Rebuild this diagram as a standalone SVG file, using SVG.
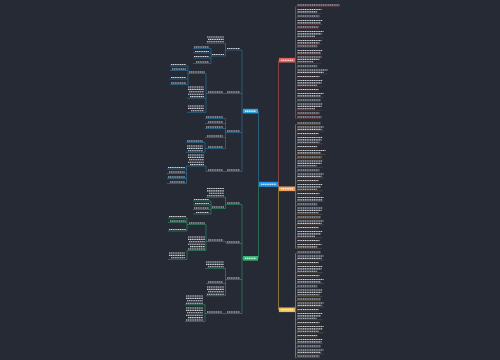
<svg xmlns="http://www.w3.org/2000/svg" width="500" height="360" viewBox="0 0 500 360">
<style>
.t{fill:none;stroke:#d4d7dc;stroke-width:1.1;stroke-dasharray:1.3 .5}
.tw{fill:none;stroke:#ffffff;stroke-width:1.1;stroke-dasharray:1.3 .5}
.c{fill:none;stroke-width:.6}
.r{stroke:#c4524f}.o{stroke:#d08a45}.y{stroke:#cba443}.b{stroke:#2b7dab}.g{stroke:#2e9767}
g[id^="r"] .c,g[id^="o"] .c,g[id^="y"] .c{stroke-opacity:.45}
</style>
<rect width="500" height="360" fill="#262a34"/>
<g id="connectors">
<path class="c b" d="M259 184.3H258.5V111.1"/>
<path class="c g" d="M258.5 184.3V258.3"/>
<path class="c r" d="M278 184.3h.5V60.2H279"/>
<path class="c y" d="M278.5 184.3V309.8H279M278.5 188.8h.5"/>
<path class="c r" d="M295.5 6.5V118.5"/>
<path class="c o" d="M295.5 124.5V248.4"/>
<path class="c y" d="M295.5 253.5V357.5"/>
<path class="c b" d="M242 50V171.5M242 111.1h1M225.5 43.3V56M211 48.5V63.5M206 73.5V112.3M188 66V84.5M225.5 118.5V148.5M205 142.5V152.3M206 166.1V171.5M186.5 166.1V183.5"/>
<path class="c g" d="M242 204.5V313.5M242 258.3h1M225.5 197.2V208.5M211 201V214M226 241.5V243.5M206 224.5V250.5M187 218V231M187 250.5V259.3M225.5 268.3V295.7M205 304.7V321.5"/>
</g>
<g id="center"><rect x="259" y="181.8" width="19" height="5" fill="#2196f3"/><path class="tw" d="M261 184.3h15"/></g>
<g id="n-red"><rect x="279" y="57.9" width="16" height="4.6" fill="#e0625e"/><path class="tw" d="M281 60.2h12"/></g>
<g id="n-orange"><rect x="279" y="186.5" width="16" height="4.6" fill="#f0a25e"/><path class="tw" d="M281 188.8h12"/></g>
<g id="n-yellow"><rect x="279" y="307.5" width="16" height="4.6" fill="#edc05a"/><path class="tw" d="M281 309.8h12"/></g>
<g id="n-blue"><rect x="243" y="108.8" width="15" height="4.6" fill="#2ea4dc"/><path class="tw" d="M245 111.1h11"/></g>
<g id="n-green"><rect x="243" y="256" width="15" height="4.6" fill="#35b677"/><path class="tw" d="M245 258.3h11"/></g>
<g id="r1"><path class="t" d="M297.5 5h42"/><path class="c r" d="M295.5 6.5h44"/></g>
<g id="r2"><path class="t" d="M297.5 9.5h24M297.5 11.9h20"/><path class="c r" d="M295.5 13.4h26"/></g>
<g id="r3"><path class="t" d="M297.5 16h22"/><path class="c r" d="M295.5 17.5h24"/></g>
<g id="r4"><path class="t" d="M297.5 20.5h25M297.5 22.9h23"/><path class="c r" d="M295.5 24.4h27"/></g>
<g id="r5"><path class="t" d="M297.5 27h21"/><path class="c r" d="M295.5 28.5h23"/></g>
<g id="r6"><path class="t" d="M297.5 31.5h26M297.5 33.9h24M297.5 36.3h18"/><path class="c r" d="M295.5 37.8h28"/></g>
<g id="r7"><path class="t" d="M297.5 40.5h24M297.5 42.9h22"/><path class="c r" d="M295.5 44.4h26"/></g>
<g id="r8"><path class="t" d="M297.5 46h20"/><path class="c r" d="M295.5 47.5h22"/></g>
<g id="r9"><path class="t" d="M297.5 50.5h25M297.5 52.9h23"/><path class="c r" d="M295.5 54.4h27"/></g>
<g id="r10"><path class="t" d="M297.5 57h24M297.5 59.4h22M297.5 61.8h16"/><path class="c r" d="M295.5 63.3h26"/></g>
<g id="r11"><path class="t" d="M297.5 66h20"/><path class="c r" d="M295.5 67.5h22"/></g>
<g id="r12"><path class="t" d="M297.5 70h30M297.5 72.4h26"/><path class="c r" d="M295.5 73.9h32"/></g>
<g id="r13"><path class="t" d="M297.5 76.5h22"/><path class="c r" d="M295.5 78h24"/></g>
<g id="r14"><path class="t" d="M297.5 80.5h25M297.5 82.9h24M297.5 85.3h20"/><path class="c r" d="M295.5 86.8h27"/></g>
<g id="r15"><path class="t" d="M297.5 89.5h21"/><path class="c r" d="M295.5 91h23"/></g>
<g id="r16"><path class="t" d="M297.5 93.5h26M297.5 95.9h23"/><path class="c r" d="M295.5 97.4h28"/></g>
<g id="r17"><path class="t" d="M297.5 100h23"/><path class="c r" d="M295.5 101.5h25"/></g>
<g id="r18"><path class="t" d="M297.5 104h25M297.5 106.4h24M297.5 108.8h18"/><path class="c r" d="M295.5 110.3h27"/></g>
<g id="r19"><path class="t" d="M297.5 113h22"/><path class="c r" d="M295.5 114.5h24"/></g>
<g id="r20"><path class="t" d="M297.5 117h24"/><path class="c r" d="M295.5 118.5h26"/></g>
<g id="o1"><path class="t" d="M297.5 123h23"/><path class="c o" d="M295.5 124.5h25"/></g>
<g id="o2"><path class="t" d="M297.5 127h26M297.5 129.4h24"/><path class="c o" d="M295.5 130.9h28"/></g>
<g id="o3"><path class="t" d="M297.5 133.5h21"/><path class="c o" d="M295.5 135h23"/></g>
<g id="o4"><path class="t" d="M297.5 137.5h25M297.5 139.9h24M297.5 142.3h22"/><path class="c o" d="M295.5 143.8h27"/></g>
<g id="o5"><path class="t" d="M297.5 146.5h20"/><path class="c o" d="M295.5 148h22"/></g>
<g id="o6"><path class="t" d="M297.5 150.5h28M297.5 152.9h23"/><path class="c o" d="M295.5 154.4h30"/></g>
<g id="o7"><path class="t" d="M297.5 157h24"/><path class="c o" d="M295.5 158.5h26"/></g>
<g id="o8"><path class="t" d="M297.5 161h25M297.5 163.4h24M297.5 165.8h19"/><path class="c o" d="M295.5 167.3h27"/></g>
<g id="o9"><path class="t" d="M297.5 170h22"/><path class="c o" d="M295.5 171.5h24"/></g>
<g id="o10"><path class="t" d="M297.5 174h26M297.5 176.4h24"/><path class="c o" d="M295.5 177.9h28"/></g>
<g id="o11"><path class="t" d="M297.5 180.5h21"/><path class="c o" d="M295.5 182h23"/></g>
<g id="o12"><path class="t" d="M297.5 184.5h25M297.5 186.9h23M297.5 189.3h20"/><path class="c o" d="M295.5 190.8h27"/></g>
<g id="o13"><path class="t" d="M297.5 193.5h22"/><path class="c o" d="M295.5 195h24"/></g>
<g id="o14"><path class="t" d="M297.5 197.5h26M297.5 199.9h25"/><path class="c o" d="M295.5 201.4h28"/></g>
<g id="o15"><path class="t" d="M297.5 204h20"/><path class="c o" d="M295.5 205.5h22"/></g>
<g id="o16"><path class="t" d="M297.5 208h25M297.5 210.4h24M297.5 212.8h21"/><path class="c o" d="M295.5 214.3h27"/></g>
<g id="o17"><path class="t" d="M297.5 217h23"/><path class="c o" d="M295.5 218.5h25"/></g>
<g id="o18"><path class="t" d="M297.5 221h26M297.5 223.4h24"/><path class="c o" d="M295.5 224.9h28"/></g>
<g id="o19"><path class="t" d="M297.5 227.5h21"/><path class="c o" d="M295.5 229h23"/></g>
<g id="o20"><path class="t" d="M297.5 231.5h25M297.5 233.9h23M297.5 236.3h18"/><path class="c o" d="M295.5 237.8h27"/></g>
<g id="o21"><path class="t" d="M297.5 240.5h22"/><path class="c o" d="M295.5 242h24"/></g>
<g id="o22"><path class="t" d="M297.5 244.5h24M297.5 246.9h20"/><path class="c o" d="M295.5 248.4h26"/></g>
<g id="y1"><path class="t" d="M297.5 252h23"/><path class="c y" d="M295.5 253.5h25"/></g>
<g id="y2"><path class="t" d="M297.5 256h26M297.5 258.4h24"/><path class="c y" d="M295.5 259.9h28"/></g>
<g id="y3"><path class="t" d="M297.5 262.5h21"/><path class="c y" d="M295.5 264h23"/></g>
<g id="y4"><path class="t" d="M297.5 266.5h25M297.5 268.9h24M297.5 271.3h20"/><path class="c y" d="M295.5 272.8h27"/></g>
<g id="y5"><path class="t" d="M297.5 275.5h22"/><path class="c y" d="M295.5 277h24"/></g>
<g id="y6"><path class="t" d="M297.5 279.5h26M297.5 281.9h23"/><path class="c y" d="M295.5 283.4h28"/></g>
<g id="y7"><path class="t" d="M297.5 286h20"/><path class="c y" d="M295.5 287.5h22"/></g>
<g id="y8"><path class="t" d="M297.5 290h25M297.5 292.4h24M297.5 294.8h22"/><path class="c y" d="M295.5 296.3h27"/></g>
<g id="y9"><path class="t" d="M297.5 299h23"/><path class="c y" d="M295.5 300.5h25"/></g>
<g id="y10"><path class="t" d="M297.5 303h26M297.5 305.4h24"/><path class="c y" d="M295.5 306.9h28"/></g>
<g id="y11"><path class="t" d="M297.5 309.5h21"/><path class="c y" d="M295.5 311h23"/></g>
<g id="y12"><path class="t" d="M297.5 313.5h25M297.5 315.9h23M297.5 318.3h19"/><path class="c y" d="M295.5 319.8h27"/></g>
<g id="y13"><path class="t" d="M297.5 322.5h22"/><path class="c y" d="M295.5 324h24"/></g>
<g id="y14"><path class="t" d="M297.5 326.5h26M297.5 328.9h25M297.5 331.3h21"/><path class="c y" d="M295.5 332.8h28"/></g>
<g id="y15"><path class="t" d="M297.5 335.5h20"/><path class="c y" d="M295.5 337h22"/></g>
<g id="y16"><path class="t" d="M297.5 339.5h25M297.5 341.9h24"/><path class="c y" d="M295.5 343.4h27"/></g>
<g id="y17"><path class="t" d="M297.5 346h23"/><path class="c y" d="M295.5 347.5h25"/></g>
<g id="y18"><path class="t" d="M297.5 350h26M297.5 352.4h23"/><path class="c y" d="M295.5 353.9h28"/></g>
<g id="y19"><path class="t" d="M297.5 356h22"/><path class="c y" d="M295.5 357.5h24"/></g>
<g id="b-s1"><path class="t" d="M227 48.5h13"/><path class="c b" d="M225.5 50h16.5"/></g>
<g id="b-s2"><path class="t" d="M227 92h13"/><path class="c b" d="M226 93.5h16"/></g>
<g id="b-s3"><path class="t" d="M227 131h13"/><path class="c b" d="M225.5 132.5h16.5"/></g>
<g id="b-s4"><path class="t" d="M227 170h13"/><path class="c b" d="M226 171.5h16"/></g>
<g id="b-a1"><path class="t" d="M207 37h17M208 39.4h16M207 41.8h17"/><path class="c b" d="M206 43.3h19.5"/></g>
<g id="b-a2"><path class="t" d="M212 54.5h12"/><path class="c b" d="M211 56h14.5"/></g>
<g id="b-a2a"><path class="t" d="M194 47h15"/><path class="c b" d="M193 48.5h18"/></g>
<g id="b-a2b"><path class="t" d="M195 51.5h14"/><path class="c b" d="M193 53h18"/></g>
<g id="b-a2c"><path class="t" d="M194 56.5h15"/><path class="c b" d="M193 58h18"/></g>
<g id="b-a2d"><path class="t" d="M196 62h13"/><path class="c b" d="M193 63.5h18"/></g>
<g id="b-l2"><path class="t" d="M208 92h15"/><path class="c b" d="M206 93.5h20"/></g>
<g id="b-n"><path class="t" d="M189 72h16"/><path class="c b" d="M188 73.5h18"/></g>
<g id="b-na"><path class="t" d="M171 64.5h15"/><path class="c b" d="M170 66h18"/></g>
<g id="b-nb"><path class="t" d="M172 69h14"/><path class="c b" d="M170 70.5h18"/></g>
<g id="b-nc"><path class="t" d="M171 77.5h15"/><path class="c b" d="M170 79h18"/></g>
<g id="b-nd"><path class="t" d="M171 83h15"/><path class="c b" d="M170 84.5h18"/></g>
<g id="b-b1"><path class="t" d="M188 87h16M188 89.4h16M189 91.8h15M188 94.2h16M190 96.6h14"/><path class="c b" d="M187 98.1h19"/></g>
<g id="b-b2"><path class="t" d="M188 106h16M188 108.4h16M191 110.8h13"/><path class="c b" d="M187 112.3h19"/></g>
<g id="b-c1"><path class="t" d="M206 117h17"/><path class="c b" d="M205 118.5h20.5"/></g>
<g id="b-c2"><path class="t" d="M208 122h15"/><path class="c b" d="M205 123.5h20.5"/></g>
<g id="b-c3"><path class="t" d="M206 127h17"/><path class="c b" d="M205 128.5h20.5"/></g>
<g id="b-c4"><path class="t" d="M207 136h16"/><path class="c b" d="M205 137.5h20.5"/></g>
<g id="b-m"><path class="t" d="M208 147h15"/><path class="c b" d="M205 148.5h20.5"/></g>
<g id="b-ma"><path class="t" d="M187 141h16"/><path class="c b" d="M186 142.5h19"/></g>
<g id="b-mb"><path class="t" d="M187 146h16M187 148.4h16M188 150.8h15"/><path class="c b" d="M186 152.3h19"/></g>
<g id="b-p"><path class="t" d="M208 170h15"/><path class="c b" d="M206 171.5h20"/></g>
<g id="b-b3"><path class="t" d="M188 155h16M188 157.4h16M189 159.8h15M188 162.2h16M190 164.6h14"/><path class="c b" d="M186.5 166.1h19.5"/></g>
<g id="b-pa"><path class="t" d="M168 167.5h17"/><path class="c b" d="M167 169h19.5"/></g>
<g id="b-pb"><path class="t" d="M169 172h16"/><path class="c b" d="M167 173.5h19.5"/></g>
<g id="b-pc"><path class="t" d="M168 177h17"/><path class="c b" d="M167 178.5h19.5"/></g>
<g id="b-pd"><path class="t" d="M170 182h15"/><path class="c b" d="M167 183.5h19.5"/></g>
<g id="g-u1"><path class="t" d="M227 203h13"/><path class="c g" d="M225.5 204.5h16.5"/></g>
<g id="g-u2"><path class="t" d="M227 242h13"/><path class="c g" d="M226 243.5h16"/></g>
<g id="g-u3"><path class="t" d="M227 278h13"/><path class="c g" d="M225.5 279.5h16.5"/></g>
<g id="g-u4"><path class="t" d="M227 312h13"/><path class="c g" d="M226 313.5h16"/></g>
<g id="g-a1"><path class="t" d="M207 188.5h17M207 190.9h17M209 193.3h15M207 195.7h17"/><path class="c g" d="M206 197.2h19.5"/></g>
<g id="g-a2"><path class="t" d="M212 207h12"/><path class="c g" d="M211 208.5h14.5"/></g>
<g id="g-a2a"><path class="t" d="M194 199.5h15"/><path class="c g" d="M193 201h18"/></g>
<g id="g-a2b"><path class="t" d="M195 203.5h14"/><path class="c g" d="M193 205h18"/></g>
<g id="g-a2c"><path class="t" d="M194 208h15"/><path class="c g" d="M193 209.5h18"/></g>
<g id="g-a2d"><path class="t" d="M196 212.5h13"/><path class="c g" d="M193 214h18"/></g>
<g id="g-v"><path class="t" d="M208 240h15"/><path class="c g" d="M206 241.5h20"/></g>
<g id="g-r"><path class="t" d="M189 223h16"/><path class="c g" d="M187 224.5h19"/></g>
<g id="g-ra"><path class="t" d="M169 216.5h17"/><path class="c g" d="M168 218h19"/></g>
<g id="g-rb"><path class="t" d="M170 221h16"/><path class="c g" d="M168 222.5h19"/></g>
<g id="g-rc"><path class="t" d="M169 229.5h17"/><path class="c g" d="M168 231h19"/></g>
<g id="g-b1"><path class="t" d="M188 237h17M188 239.4h17M189 241.8h16M188 244.2h17M190 246.6h15M188 249h17"/><path class="c g" d="M187 250.5h19"/></g>
<g id="g-b2"><path class="t" d="M169 253h16M169 255.4h16M171 257.8h14"/><path class="c g" d="M168 259.3h19"/></g>
<g id="g-c1"><path class="t" d="M206 262h18M206 264.4h18M208 266.8h16"/><path class="c g" d="M205 268.3h20.5"/></g>
<g id="g-c2"><path class="t" d="M208 282h15"/><path class="c g" d="M206 283.5h19.5"/></g>
<g id="g-c3"><path class="t" d="M207 287h17M207 289.4h17M208 291.8h16M207 294.2h17"/><path class="c g" d="M206 295.7h19.5"/></g>
<g id="g-w"><path class="t" d="M207 312h15"/><path class="c g" d="M205 313.5h21"/></g>
<g id="g-wa"><path class="t" d="M186 296h17M186 298.4h17M187 300.8h16M186 303.2h17"/><path class="c g" d="M185 304.7h20"/></g>
<g id="g-wb"><path class="t" d="M186 308h17M186 310.4h17M187 312.8h16M186 315.2h17M188 317.6h15M186 320h17"/><path class="c g" d="M185 321.5h20"/></g>
</svg>
